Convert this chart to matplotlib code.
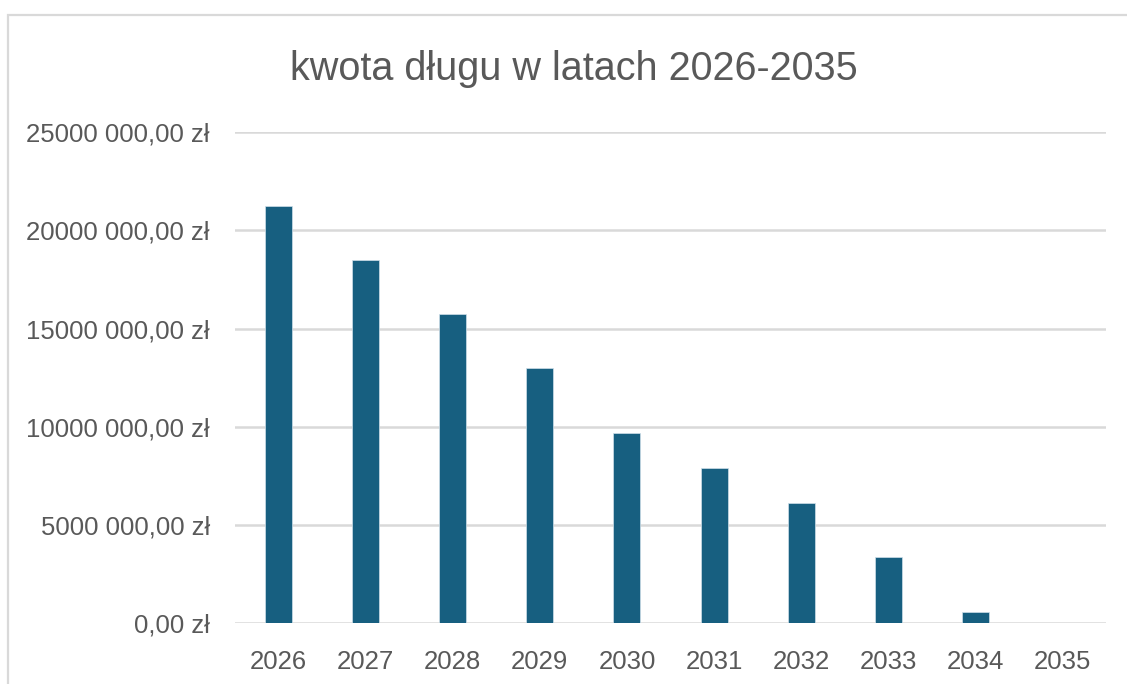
import matplotlib

matplotlib.use("Agg")
import matplotlib.pyplot as plt
from matplotlib.patches import Rectangle

# data
years = ["2026", "2027", "2028", "2029", "2030", "2031", "2032", "2033", "2034", "2035"]
debt = [21.23e6, 18.51e6, 15.75e6, 12.97e6, 9.66e6, 7.88e6, 6.13e6, 3.36e6, 0.57e6, 0.0]
y_ticks = [0, 5e6, 10e6, 15e6, 20e6, 25e6]
y_tick_labels = ["0,00 zł", "5000 000,00 zł", "10000 000,00 zł",
                 "15000 000,00 zł", "20000 000,00 zł", "25000 000,00 zł"]
title = "kwota długu w latach 2026-2035"

W, H = 1127, 684
text_color = "#595959"
bar_color = "#175f80"
grid_color = "#d9d9d9"

plt.rcParams["font.family"] = ["Liberation Sans", "DejaVu Sans"]

fig = plt.figure(figsize=(W / 100, H / 100), dpi=100)
fig.patch.set_facecolor("white")

# chart frame (runs off the right and bottom edge in the reference)
fig.add_artist(Rectangle((8 / W, -0.05), 1.1, 1 - 15 / H + 0.05,
                         transform=fig.transFigure, fill=False,
                         edgecolor=grid_color, linewidth=1.6))

ax = fig.add_axes([235 / W, 1 - 623.3 / H, (1106 - 235) / W, (623.3 - 132) / H])

x = range(len(years))
ax.bar(x, debt, width=0.31, color=bar_color, edgecolor="#cfe0ea",
       linewidth=0.5, zorder=3)

ax.set_xlim(-0.5, len(years) - 0.5)
ax.set_ylim(0, 25e6)
ax.set_yticks(y_ticks)
ax.set_yticklabels(y_tick_labels)
ax.set_xticks(list(x))
ax.set_xticklabels(years)

ax.grid(axis="y", color=grid_color, linewidth=1.8, zorder=0)
ax.set_axisbelow(True)
for s in ax.spines.values():
    s.set_visible(False)
ax.tick_params(axis="both", length=0, labelsize=18.5, colors=text_color)
ax.tick_params(axis="y", pad=18)
ax.tick_params(axis="x", pad=19)

fig.text(574 / W, 1 - 69 / H, title, ha="center", va="center",
         fontsize=28.5, color=text_color)

fig.savefig("out.png", dpi=100)
